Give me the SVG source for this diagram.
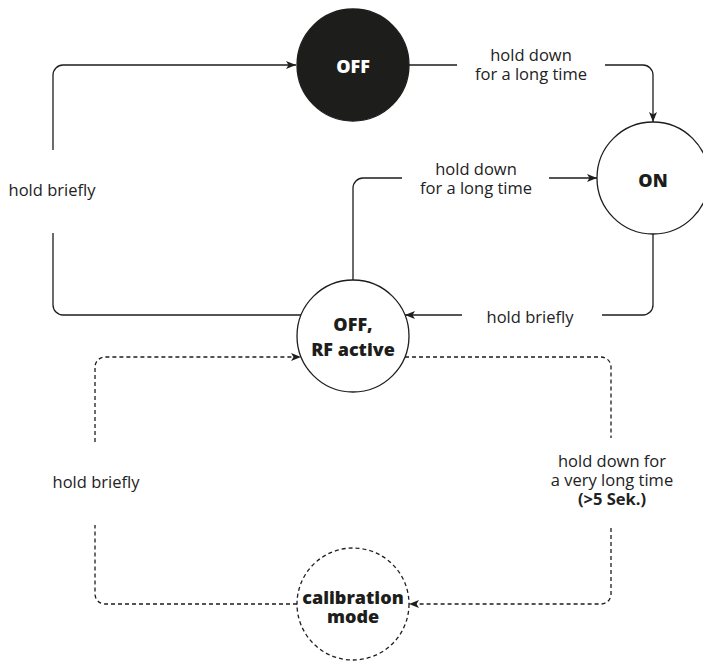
<svg xmlns="http://www.w3.org/2000/svg" width="703" height="662" viewBox="0 0 703 662">
<style>
.bg{fill:#ffffff}
.node{fill:#ffffff;stroke:#1d1d1b;stroke-width:1.3}
.node-dark{fill:#1d1d1b;stroke:#1d1d1b;stroke-width:1.3}
.node-dash{fill:#ffffff;stroke:#1d1d1b;stroke-width:1.3;stroke-dasharray:4 3}
.nl{font-family:"Open Sans","Liberation Sans",sans-serif;font-weight:800;font-size:18px;fill:#1d1d1b;text-anchor:middle}
.nl-w{fill:#ffffff}
.lbl{font-family:"Open Sans","Liberation Sans",sans-serif;font-size:16.5px;fill:#222222;text-anchor:middle}
.b{font-weight:bold}
.ln{fill:none;stroke:#1d1d1b;stroke-width:1.3}
.dash{stroke-dasharray:4 3}
</style>
<defs>
<marker id="arr" markerUnits="userSpaceOnUse" markerWidth="12" markerHeight="10" refX="10" refY="4" orient="auto">
<path d="M0,0 L10,4 L0,8 L2.5,4 z" fill="#1d1d1b"/>
</marker>
</defs>
<rect class="bg" x="0" y="0" width="703" height="662"/>
<g id="connectors">
<path class="ln" d="M301,315 H63 A10,10 0 0 1 53,305 V233"/>
<path class="ln" d="M53,150 V75 A10,10 0 0 1 63,65 H296" marker-end="url(#arr)"/>
<path class="ln" d="M409,65 H457"/>
<path class="ln" d="M605,65 H643 A10,10 0 0 1 653,75 V122" marker-end="url(#arr)"/>
<path class="ln" d="M653,234 V305 A10,10 0 0 1 643,315 H602"/>
<path class="ln" d="M462,315 H405" marker-end="url(#arr)"/>
<path class="ln" d="M353,280 V188 A10,10 0 0 1 363,178 H402"/>
<path class="ln" d="M549,178 H597" marker-end="url(#arr)"/>
<path class="ln dash" d="M405,357 H601 A10,10 0 0 1 611,367 V438"/>
<path class="ln dash" d="M611,528 V594 A10,10 0 0 1 601,604 H409" marker-end="url(#arr)"/>
<path class="ln dash" d="M297,604 H105 A10,10 0 0 1 95,594 V525"/>
<path class="ln dash" d="M95,442 V367 A10,10 0 0 1 105,357 H301" marker-end="url(#arr)"/>
<text class="lbl" x="52" y="196">hold briefly</text>
<text class="lbl" x="531" y="61">hold down</text>
<text class="lbl" x="531" y="80">for a long time</text>
<text class="lbl" x="476" y="175">hold down</text>
<text class="lbl" x="476" y="194">for a long time</text>
<text class="lbl" x="530" y="323">hold briefly</text>
<text class="lbl" x="96" y="488">hold briefly</text>
<text class="lbl" x="612" y="467">hold down for</text>
<text class="lbl" x="612" y="486">a very long time</text>
<text class="lbl b" x="612" y="505">(&gt;5 Sek.)</text>
</g>
<g id="node-off">
<circle class="node-dark" cx="353" cy="65" r="56"/>
<text class="nl nl-w" x="353" y="73">OFF</text>
</g>
<g id="node-on">
<circle class="node" cx="653" cy="178" r="56"/>
<text class="nl" x="653" y="187">ON</text>
</g>
<g id="node-rf">
<circle class="node" cx="353" cy="336" r="56"/>
<text class="nl" x="353" y="331">OFF,</text>
<text class="nl" x="353" y="356">RF active</text>
</g>
<g id="node-calibration">
<circle class="node-dash" cx="353" cy="604" r="56"/>
<text class="nl" x="353" y="604">calibration</text>
<text class="nl" x="353" y="623">mode</text>
</g>
</svg>
